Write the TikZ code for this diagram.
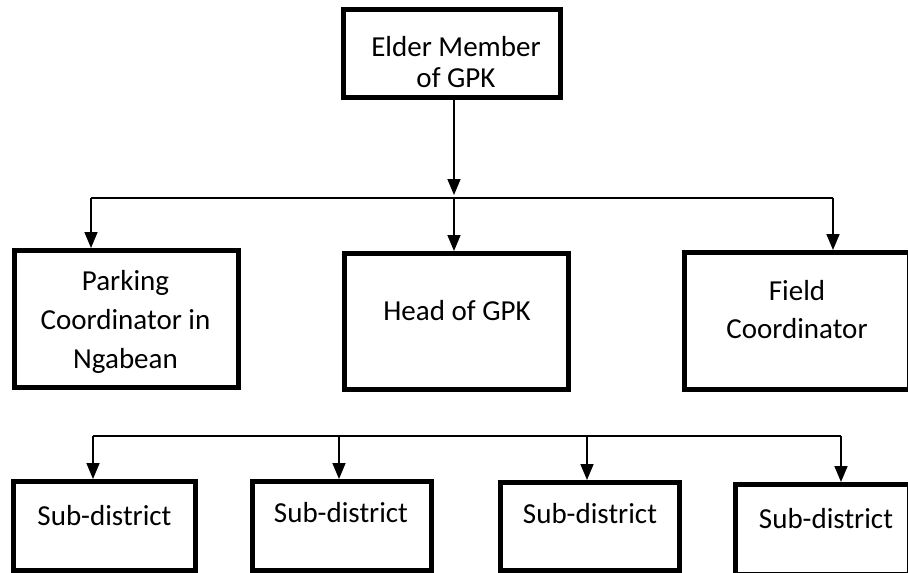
\documentclass[tikz,border=0pt]{standalone}
\usepackage{fontspec}
\setmainfont{Carlito}
\usetikzlibrary{arrows.meta}
\begin{document}
\begin{tikzpicture}[x=1pt,y=-1pt,
  box/.style={draw=black, line width=5pt, fill=white, inner sep=0pt},
  lbl/.style={inner sep=0pt, anchor=base, align=center},
  wire/.style={line width=1.6pt},
  arr/.style={wire, -{Triangle[length=16pt,width=13pt]}}]
\useasboundingbox (0,0) rectangle (908,573);
\clip (0,0) rectangle (908,573);

% boxes
\node[box, minimum width=217pt, minimum height=88pt]  (elder)   at (452,53.5) {};
\node[box, minimum width=224pt, minimum height=137pt] (parking) at (126.5,319) {};
\node[box, minimum width=224pt, minimum height=136pt] (head)    at (456.5,321.5) {};
\node[box, minimum width=225pt, minimum height=137pt] (field)   at (797,321) {};
\node[box, minimum width=182pt, minimum height=89pt]  (sub1)    at (104,526) {};
\node[box, minimum width=179pt, minimum height=89pt]  (sub2)    at (341.5,526) {};
\node[box, minimum width=179pt, minimum height=88pt]  (sub3)    at (590,526.5) {};
\node[box, minimum width=174pt, minimum height=90pt]  (sub4)    at (822.5,529.5) {};

% labels (base = baseline of the last line)
\node[lbl, font=\fontsize{29}{31}\selectfont] (elderT)   at (456,87)  {Elder Member\\of GPK};
\node[lbl, font=\fontsize{29}{39}\selectfont] (parkingT) at (125.5,368) {Parking\\Coordinator in\\Ngabean};
\node[lbl, font=\fontsize{29}{35}\selectfont] (headT)    at (457,320) {Head of GPK};
\node[lbl, font=\fontsize{29}{38}\selectfont] (fieldT)   at (797,338) {Field\\Coordinator};
\node[lbl, font=\fontsize{29}{35}\selectfont] (sub1T)    at (104.5,525) {Sub-district};
\node[lbl, font=\fontsize{29}{35}\selectfont] (sub2T)    at (341,522) {Sub-district};
\node[lbl, font=\fontsize{29}{35}\selectfont] (sub3T)    at (590,523) {Sub-district};
\node[lbl, font=\fontsize{29}{35}\selectfont] (sub4T)    at (826,528) {Sub-district};

% upper distribution line
\coordinate (b1w) at (91,198);
\coordinate (b1c) at (454,198);
\coordinate (b1e) at (833,198);
\draw[wire] (b1w) -- (b1e);
\draw[arr, shorten >=3pt] (elder.south -| b1c) -- (b1c);
\draw[arr] (b1w) -- (b1w |- parking.north);
\draw[arr] (b1c) -- (b1c |- head.north);
\draw[arr] (b1e) -- (b1e |- field.north);

% lower distribution line
\coordinate (b2a) at (93,436);
\coordinate (b2b) at (339,436);
\coordinate (b2c) at (587,436);
\coordinate (b2d) at (841,436);
\draw[wire] (b2a) -- (b2d);
\draw[arr] (b2a) -- (b2a |- sub1.north);
\draw[arr] (b2b) -- (b2b |- sub2.north);
\draw[arr] (b2c) -- (b2c |- sub3.north);
\draw[arr] (b2d) -- (b2d |- sub4.north);
\end{tikzpicture}
\end{document}
